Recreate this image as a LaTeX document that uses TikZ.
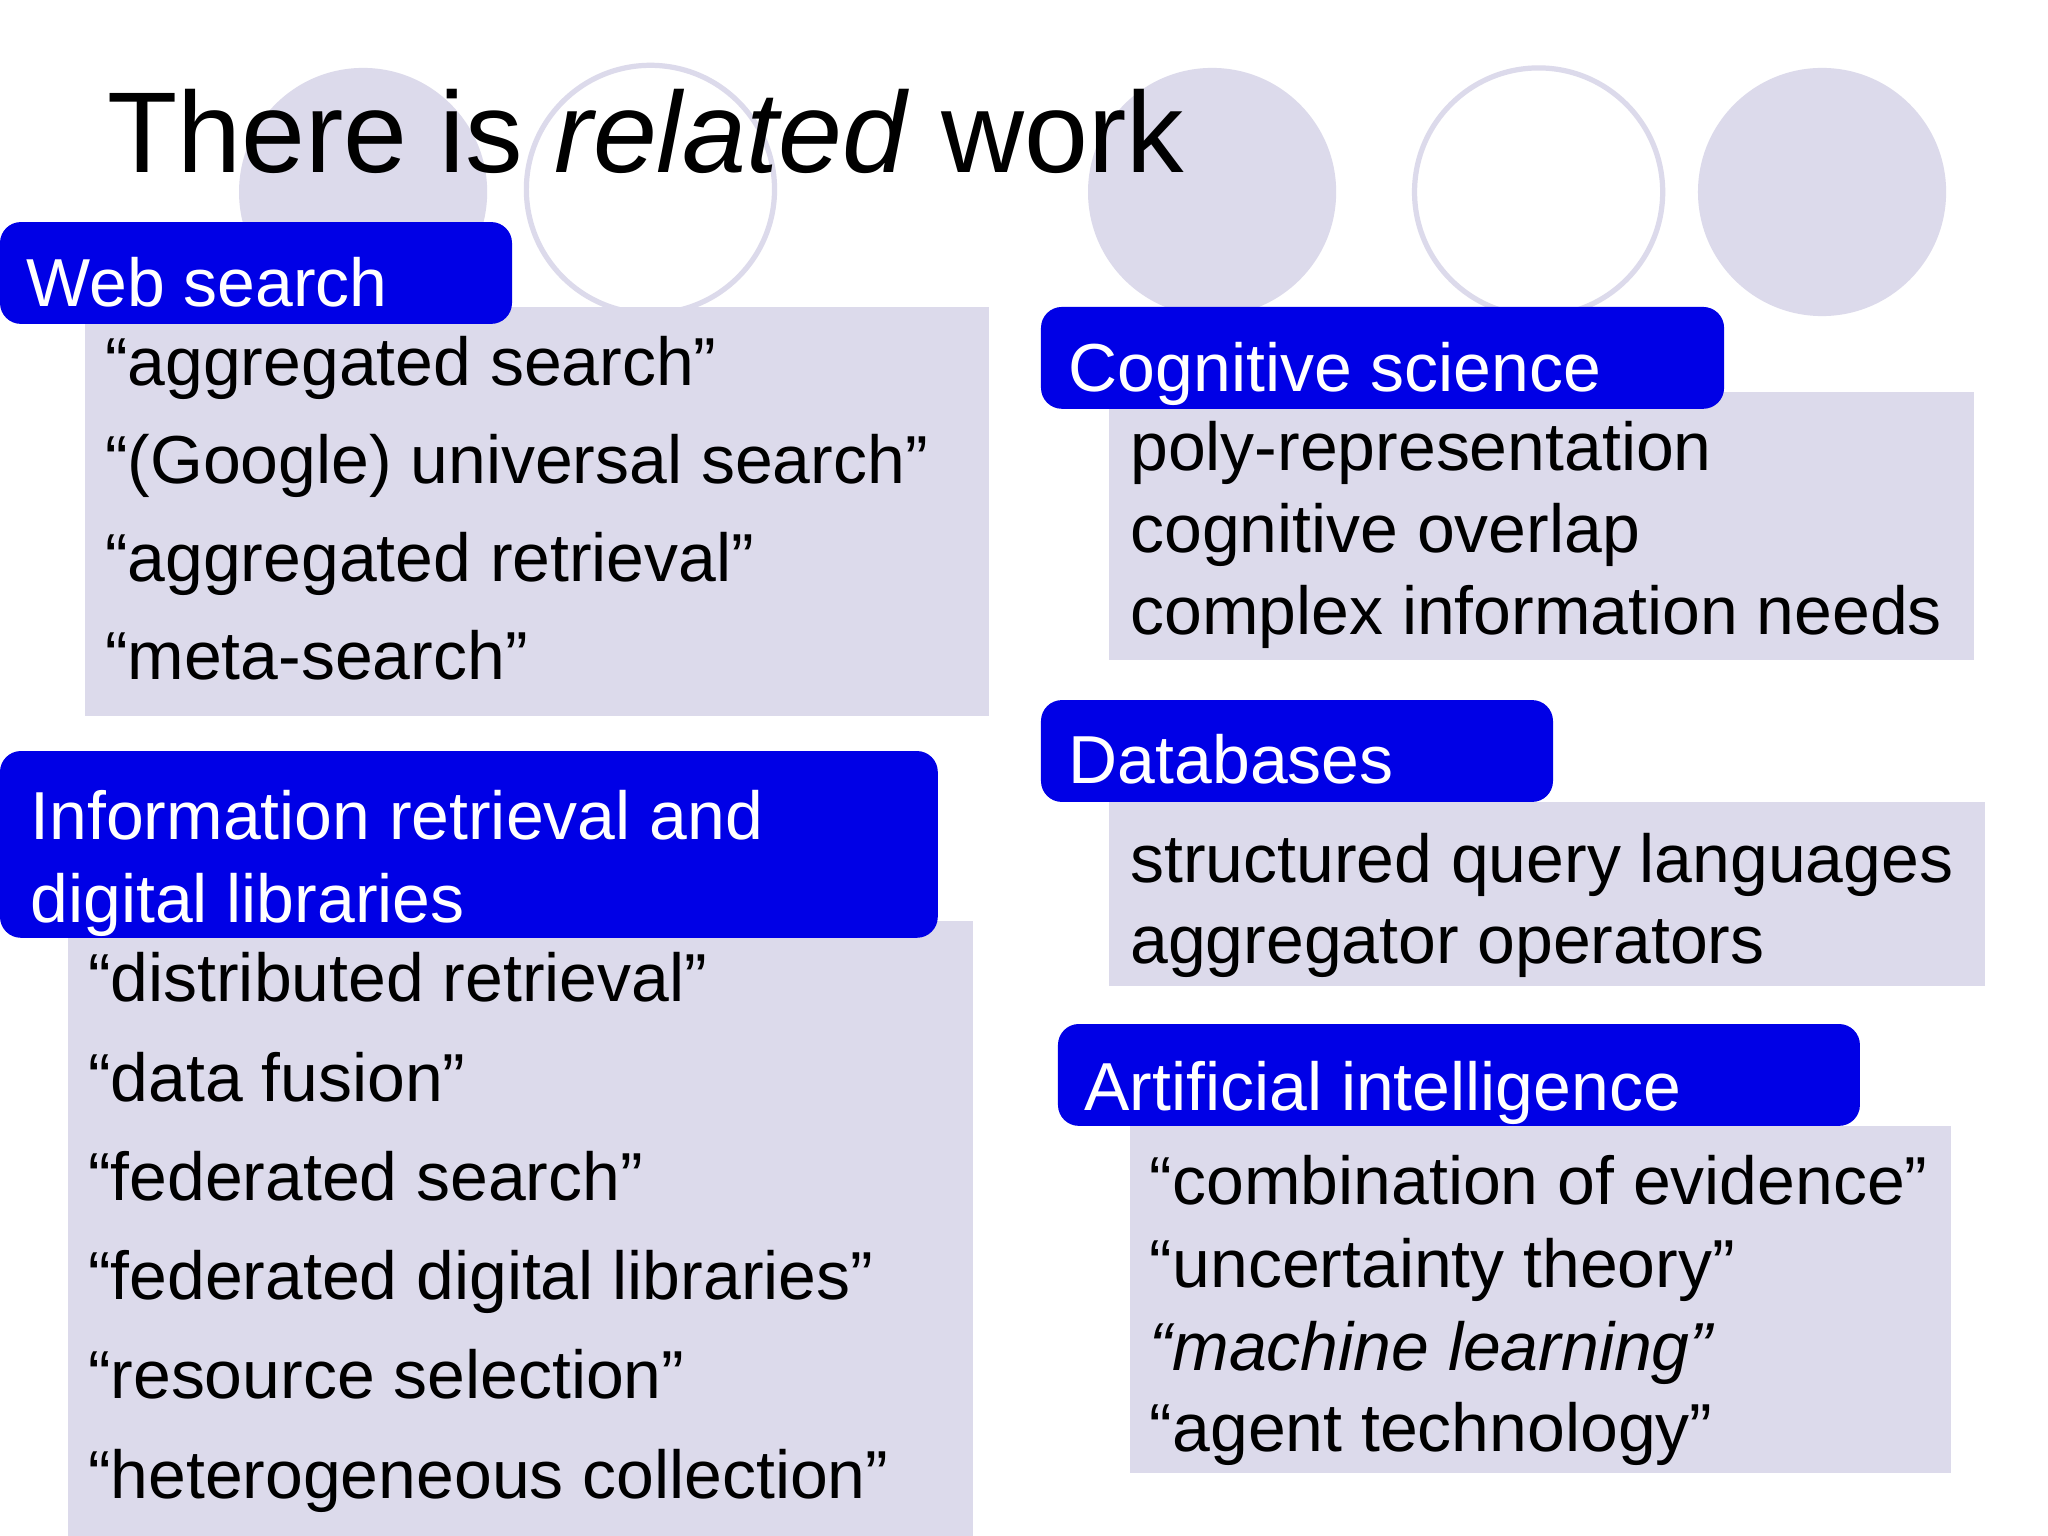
\documentclass[tikz,border=0pt]{standalone}
\usepackage{fontspec}
\setmainfont{Liberation Sans}
\begin{document}
\begin{tikzpicture}[x=0.5pt,y=-0.5pt]
\definecolor{lav}{HTML}{DCDAEB}
\definecolor{bblue}{HTML}{0000E6}
\tikzset{
 itm/.style={anchor=base west,inner sep=0,font=\fontsize{26}{30}\selectfont},
 hdr/.style={anchor=base west,inner sep=0,text=white,font=\fontsize{26}{30}\selectfont,align=left},
 hbox/.style={fill=bblue,rounded corners=8pt},
 gbox/.style={fill=lav},
 fcirc/.style={fill=lav},
 ocirc/.style={draw=lav,line width=2pt}}
\fill[white] (0,0) rectangle (1568,1176);
\fill[fcirc] (278,147) circle (95);
\draw[ocirc] (498,145) circle (95);
\fill[fcirc] (928,147) circle (95);
\draw[ocirc] (1178,147) circle (95);
\fill[fcirc] (1395,147) circle (95);
\node[anchor=base west,inner sep=0,font=\fontsize{44}{50}\selectfont] (title) at (82,132) {There is \textit{related} work};
% Web search
\fill[gbox] (65,235) rectangle (757,548);
\fill[hbox] (0,170) rectangle (392,248);
\node[hdr] (h1) at (20,235) {Web search};
\node[itm] (w1) at (80,295) {“aggregated search”};
\node[itm] (w2) at (80,370) {“(Google) universal search”};
\node[itm] (w3) at (80,445) {“aggregated retrieval”};
\node[itm] (w4) at (80,520) {“meta-search”};
% IR
\fill[gbox] (52,705) rectangle (745,1176);
\fill[hbox] (0,575) rectangle (718,718);
\node[hdr] (h2a) at (23,643) {Information retrieval and};
\node[hdr] (h2b) at (23,706) {digital libraries};
\node[itm] (i1) at (67,767) {“distributed retrieval”};
\node[itm] (i2) at (67,843) {“data fusion”};
\node[itm] (i3) at (67,919) {“federated search”};
\node[itm] (i4) at (67,995) {“federated digital libraries”};
\node[itm] (i5) at (67,1071) {“resource selection”};
\node[itm] (i6) at (67,1147) {“heterogeneous collection”};
% Cognitive
\fill[gbox] (849,300) rectangle (1511,505);
\fill[hbox] (797,235) rectangle (1320,313);
\node[hdr] (h3) at (818,300) {Cognitive science};
\node[itm] (c1) at (865,360) {poly-representation};
\node[itm] (c2) at (865,423) {cognitive overlap};
\node[itm] (c3) at (865,486) {complex information needs};
% DB
\fill[gbox] (849,614) rectangle (1520,755);
\fill[hbox] (797,536) rectangle (1189,614);
\node[hdr] (h4) at (818,600) {Databases};
\node[itm] (d1) at (865,676) {structured query languages};
\node[itm] (d2) at (865,738) {aggregator operators};
% AI
\fill[gbox] (865,862) rectangle (1494,1128);
\fill[hbox] (810,784) rectangle (1424,862);
\node[hdr] (h5) at (830,850) {Artificial intelligence};
\node[itm] (a1) at (880,922) {“combination of evidence”};
\node[itm] (a2) at (880,986) {“uncertainty theory”};
\node[itm] (a3) at (880,1049) {\textit{“machine learning”}};
\node[itm] (a4) at (880,1111) {“agent technology”};
\end{tikzpicture}
\end{document}
